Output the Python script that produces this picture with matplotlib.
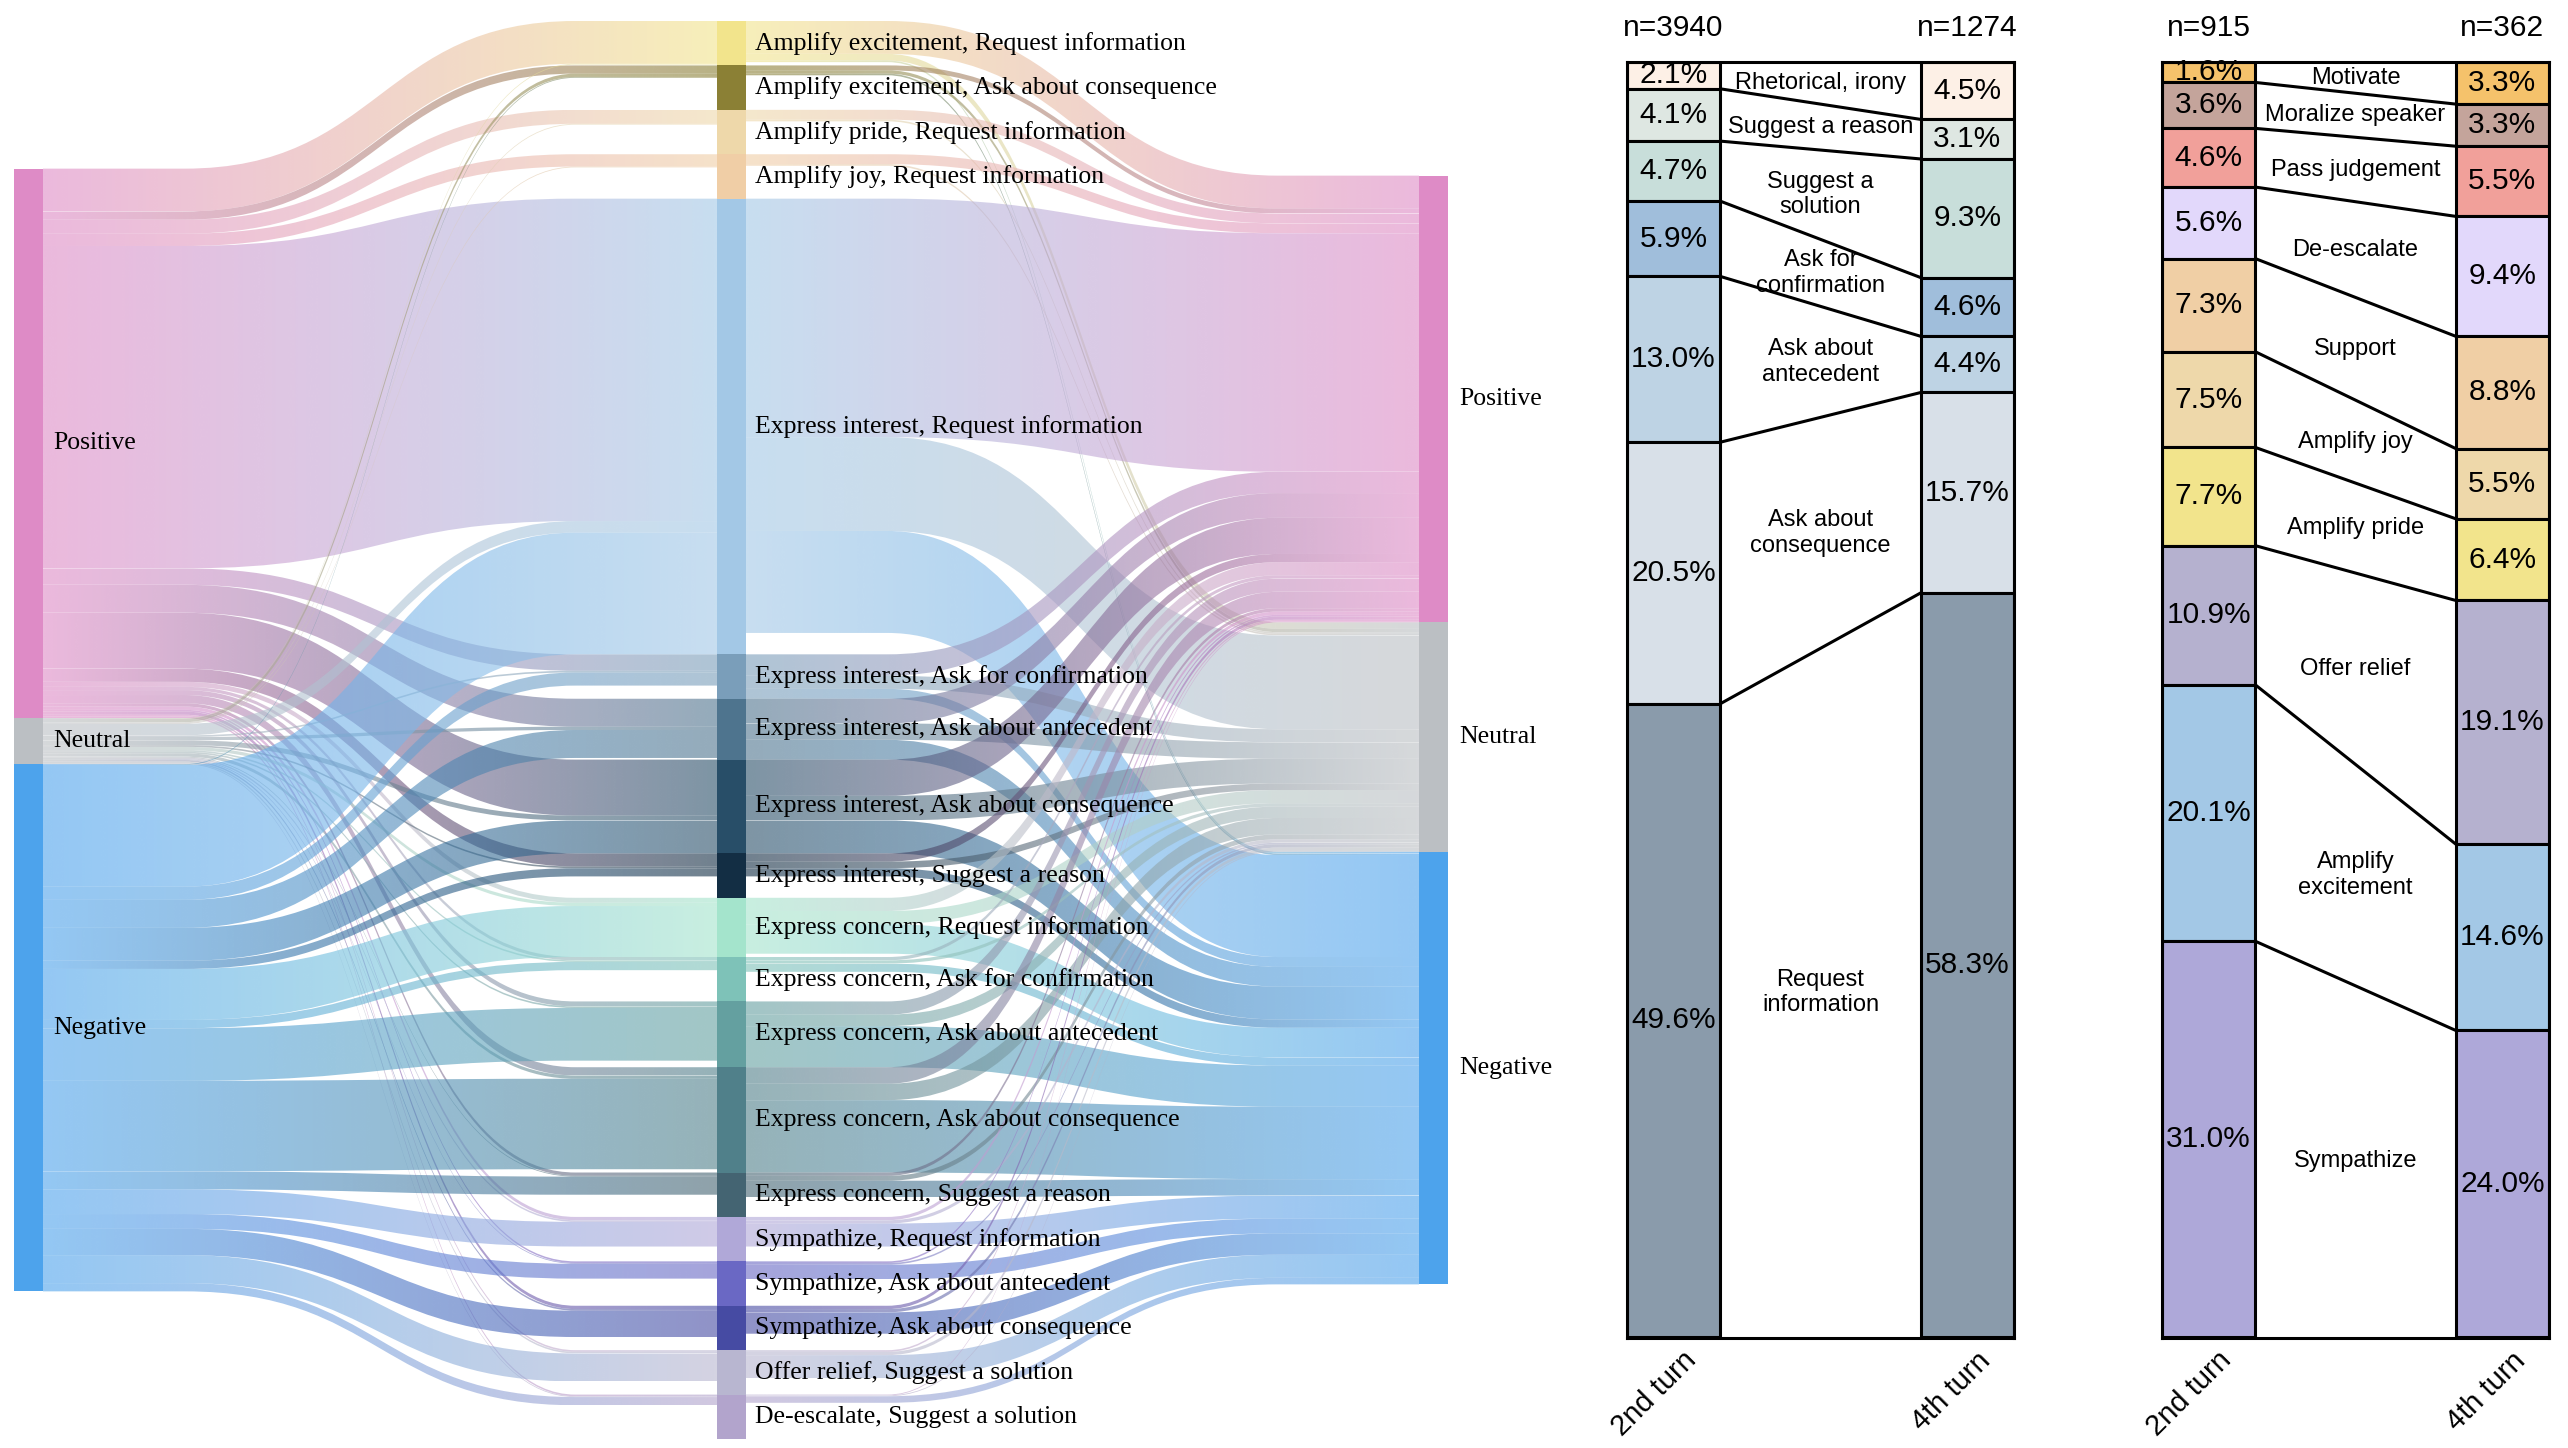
import numpy as np
import matplotlib.pyplot as plt
from matplotlib.path import Path
from matplotlib.patches import PathPatch, Rectangle
from matplotlib.colors import to_rgb
from matplotlib.transforms import ScaledTranslation

# -----------------------
# Sankey data
# -----------------------
emotions = ["Positive", "Neutral", "Negative"]
emotion_colors = ["#de8bc6", "#bbbfc3", "#4da3ec"]

strategies = [
    "Amplify excitement, Request information",
    "Amplify excitement, Ask about consequence",
    "Amplify pride, Request information",
    "Amplify joy, Request information",
    "Express interest, Request information",
    "Express interest, Ask for confirmation",
    "Express interest, Ask about antecedent",
    "Express interest, Ask about consequence",
    "Express interest, Suggest a reason",
    "Express concern, Request information",
    "Express concern, Ask for confirmation",
    "Express concern, Ask about antecedent",
    "Express concern, Ask about consequence",
    "Express concern, Suggest a reason",
    "Sympathize, Request information",
    "Sympathize, Ask about antecedent",
    "Sympathize, Ask about consequence",
    "Offer relief, Suggest a solution",
    "De-escalate, Suggest a solution",
]
strategy_colors = [
    "#f2e48c", "#8b8035", "#eed8aa", "#f0cea6", "#a3c8e6", "#7a9eba",
    "#4e748e", "#284e68", "#132e44", "#a4e4cc", "#7ec2b8", "#64a0a0",
    "#50808a", "#446472", "#b0a8d8", "#6a68c4", "#464ba3", "#b8b6d0",
    "#b2a4cc",
]

# flows: emotion (2nd turn) -> strategy
flow_pos_in = [26, 5, 8.5, 7.5, 196, 10, 17, 34, 8, 3, 2, 3, 5, 2, 2, 1, 2, 1, 1]
flow_neu_in = [0.5, 2, 0.5, 0.5, 7, 1, 2, 3, 1, 2, 1, 1, 2, 0.5, 1, 0.5, 1, 1, 0.5]
flow_neg_in = [0, 0.5, 0, 0, 74, 8, 17, 20, 5, 31, 5, 32, 55, 11, 15, 9, 16, 17, 5]

# flows: strategy -> emotion (4th turn)
flow_to_pos = [20, 3, 6, 6, 145, 13, 15, 22, 5, 8, 2, 8, 10, 2, 2, 1, 2, 1, 0.5]
flow_to_neu = [4, 2, 1, 1, 57, 8, 10, 15, 4, 8, 2, 7, 10, 3, 2, 1, 2, 2, 0.5]
flow_to_neg = [1, 1, 0, 0, 62, 6, 12, 20, 5, 18, 5, 25, 44, 10, 14, 9, 13, 14, 4]

# -----------------------
# Stacked bar data
# -----------------------
cog_cats = ["Rhetorical, irony", "Suggest a reason", "Suggest a\nsolution",
            "Ask for\nconfirmation", "Ask about\nantecedent",
            "Ask about\nconsequence", "Request\ninformation"]
cog_2nd = [2.1, 4.1, 4.7, 5.9, 13.0, 20.5, 49.6]
cog_4th = [4.5, 3.1, 9.3, 4.6, 4.4, 15.7, 58.3]
cog_colors = ["#fdf0e6", "#dee7e2", "#c8deda", "#a0bedb", "#bed3e4",
              "#d8e0e8", "#8a9bab"]
cog_n = ["n=3940", "n=1274"]

aff_cats = ["Motivate", "Moralize speaker", "Pass judgement", "De-escalate",
            "Support", "Amplify joy", "Amplify pride", "Offer relief",
            "Amplify\nexcitement", "Sympathize"]
aff_2nd = [1.6, 3.6, 4.6, 5.6, 7.3, 7.5, 7.7, 10.9, 20.1, 31.0]
aff_4th = [3.3, 3.3, 5.5, 9.4, 8.8, 5.5, 6.4, 19.1, 14.6, 24.0]
aff_colors = ["#f5c26b", "#c4a49b", "#f1a09a", "#e2d8fb", "#f0cfa5",
              "#eed8aa", "#f2e48c", "#b5b1cf", "#a3c8e6", "#aea8d9"]
aff_n = ["n=915", "n=362"]

turn_labels = ["2nd turn", "4th turn"]

# -----------------------
# Figure
# -----------------------
W, H = 2568, 1448
fig = plt.figure(figsize=(W / 100, H / 100), dpi=100)
ax = fig.add_axes([0, 0, 1, 1])
ax.set_xlim(0, W)
ax.set_ylim(H, 0)
ax.set_autoscale_on(False)
ax.axis("off")

serif = "Liberation Serif"
sans = "Liberation Sans"

# -----------------------
# Sankey layout
# -----------------------
flow_in = np.array([flow_pos_in, flow_neu_in, flow_neg_in], dtype=float)      # 3 x 19
flow_out = np.array([flow_to_pos, flow_to_neu, flow_to_neg], dtype=float).T   # 19 x 3

x_cols = [14, 717, 1419]
node_w = 29
min_node = 27
col_center = 730
mid_span = 1418

left_sizes = flow_in.sum(axis=1)
right_sizes = flow_out.sum(axis=0)
mid_sizes = np.maximum(np.maximum(flow_in.sum(axis=0), flow_out.sum(axis=1)), min_node)
scale = mid_span / mid_sizes.sum()


def tops(sizes):
    total = sizes.sum() * scale
    start = col_center - total / 2
    return start + np.concatenate([[0], np.cumsum(sizes)[:-1]]) * scale


left_tops = tops(left_sizes)
mid_tops = tops(mid_sizes)
right_tops = tops(right_sizes)


def draw_link(x0, y0, x1, y1, h, c0, c1):
    g = x1 - x0
    xa, xb = x0 + 0.21 * g, x1 - 0.21 * g
    xm = (xa + xb) / 2
    verts = [(x0, y0), (xa, y0), (xm, y0), (xm, y1), (xb, y1), (x1, y1),
             (x1, y1 + h), (xb, y1 + h), (xm, y1 + h), (xm, y0 + h), (xa, y0 + h),
             (x0, y0 + h), (x0, y0)]
    codes = [Path.MOVETO, Path.LINETO, Path.CURVE4, Path.CURVE4, Path.CURVE4,
             Path.LINETO, Path.LINETO, Path.LINETO, Path.CURVE4, Path.CURVE4,
             Path.CURVE4, Path.LINETO, Path.CLOSEPOLY]
    patch = PathPatch(Path(verts, codes), facecolor="none", edgecolor="none")
    ax.add_patch(patch)
    t = np.linspace(0, 1, 128)[:, None]
    rgb = (1 - t) * np.array(to_rgb(c0)) + t * np.array(to_rgb(c1))
    img = np.concatenate([rgb, np.full((128, 1), 0.6)], axis=1)[None, :, :]
    ymin, ymax = min(y0, y1), max(y0, y1) + h
    im = ax.imshow(img, extent=(x0, x1, ymax, ymin), aspect="auto",
                   interpolation="bilinear", zorder=1)
    im.set_clip_path(patch)


# emotion -> strategy links
for i in range(3):
    for j in range(len(strategies)):
        v = flow_in[i, j]
        if v <= 0:
            continue
        y0 = left_tops[i] + flow_in[i, :j].sum() * scale
        y1 = mid_tops[j] + flow_in[:i, j].sum() * scale
        draw_link(x_cols[0] + node_w, y0, x_cols[1], y1, v * scale,
                  emotion_colors[i], strategy_colors[j])

# strategy -> emotion links
for j in range(len(strategies)):
    for k in range(3):
        v = flow_out[j, k]
        if v <= 0:
            continue
        y0 = mid_tops[j] + flow_out[j, :k].sum() * scale
        y1 = right_tops[k] + flow_out[:j, k].sum() * scale
        draw_link(x_cols[1] + node_w, y0, x_cols[2], y1, v * scale,
                  strategy_colors[j], emotion_colors[k])

# nodes and labels
columns = [(x_cols[0], left_tops, left_sizes, emotions, emotion_colors, 10),
           (x_cols[1], mid_tops, mid_sizes, strategies, strategy_colors, 9),
           (x_cols[2], right_tops, right_sizes, emotions, emotion_colors, 11)]
for x, ts, sz, names, cols, off in columns:
    for t, s, name, c in zip(ts, sz, names, cols):
        ax.add_patch(Rectangle((x, t), node_w, s * scale, facecolor=c,
                               edgecolor="none", zorder=3))
        ax.text(x + node_w + off, t + s * scale / 2, name, ha="left",
                va="center", fontsize=18.5, family=serif, zorder=4)


# -----------------------
# Stacked bar panels
# -----------------------
def stacked_panel(x_left, cats, vals_l, vals_r, colors, n_labels):
    bar_w = 0.317
    bx = fig.add_axes([x_left / W, 110 / H, 387 / W, 1276 / H])
    bx.set_facecolor("none")
    mids = []
    ends = []
    for xi, vals in enumerate([vals_l, vals_r]):
        vals = np.array(vals)
        bottoms = np.concatenate([[0], np.cumsum(vals)[:-1]])
        bx.bar(xi, vals, bottom=bottoms, width=bar_w, color=colors,
               edgecolor="black", linewidth=2.2, zorder=2)
        for v, b in zip(vals, bottoms):
            bx.text(xi, b + v / 2, f"{v:.1f}%", ha="center", va="center",
                    fontsize=21.5, family=sans, zorder=3)
        mids.append(bottoms + vals / 2)
        ends.append(np.cumsum(vals))

    for a, b in zip(ends[0][:-1], ends[1][:-1]):
        bx.plot([bar_w / 2, 1 - bar_w / 2], [a, b], color="black", lw=2.2,
                solid_capstyle="butt", zorder=2)

    for cat, yl, yr in zip(cats, mids[0], mids[1]):
        bx.text(0.5, (yl + yr) / 2, cat, ha="center", va="center",
                fontsize=17, family=sans, zorder=3)

    for xi, lab in enumerate(n_labels):
        bx.text(xi, 1.027, lab, transform=bx.get_xaxis_transform(),
                ha="center", va="center", fontsize=21.5, family=sans)

    bx.set_xlim(-bar_w / 2, 1 + bar_w / 2)
    bx.set_ylim(100, 0)
    bx.set_yticks([])
    bx.set_xticks([0, 1])
    bx.set_xticklabels(turn_labels, rotation=45, ha="right",
                       rotation_mode="anchor", fontsize=21, family=sans)
    bx.tick_params(axis="x", length=0, pad=6)
    for lab in bx.get_xticklabels():
        lab.set_transform(lab.get_transform() +
                          ScaledTranslation(6 / 72, 0, fig.dpi_scale_trans))
    for sp in bx.spines.values():
        sp.set_linewidth(2.2)
        sp.set_zorder(4)


stacked_panel(1627, cog_cats, cog_2nd, cog_4th, cog_colors, cog_n)
stacked_panel(2162, aff_cats, aff_2nd, aff_4th, aff_colors, aff_n)

fig.savefig("out.png", dpi=100)
